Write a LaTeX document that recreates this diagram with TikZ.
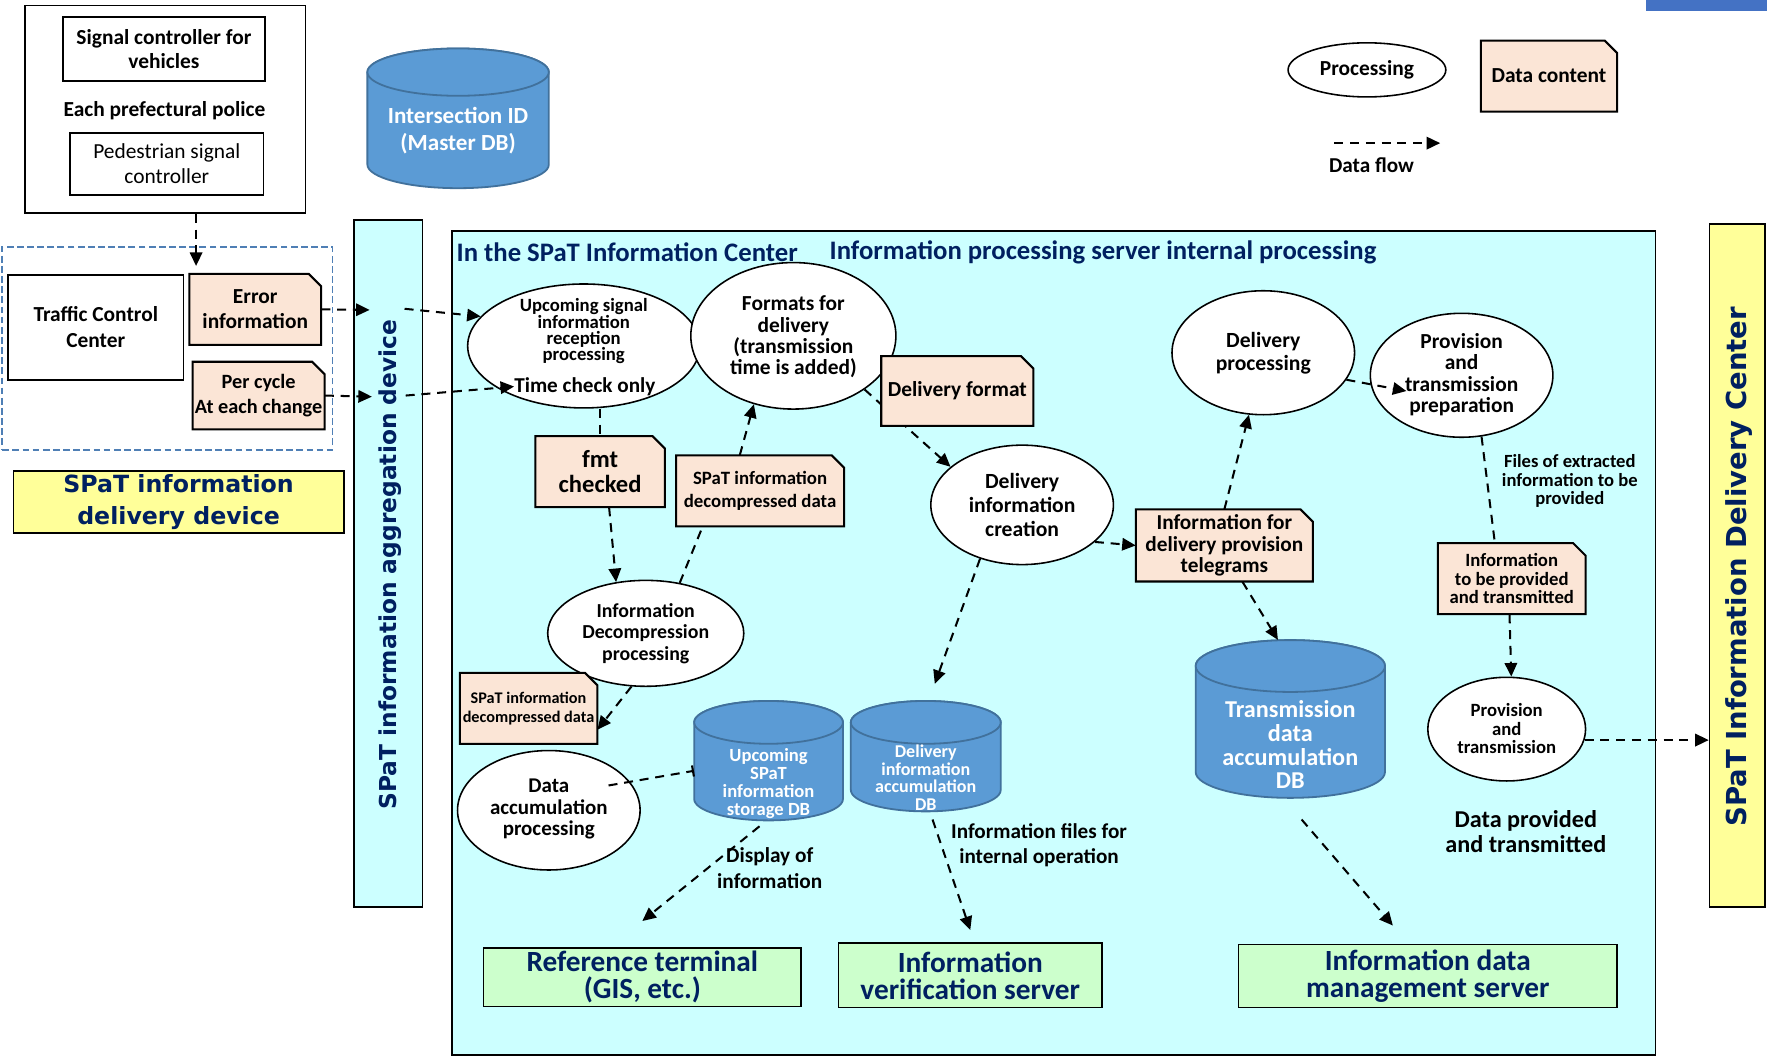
\documentclass[tikz,border=0pt]{standalone}
\usepackage{fontspec}
\setmainfont{Carlito}
\newfontfamily\dvs{DejaVu Sans}
\usetikzlibrary{arrows.meta,shapes.geometric}

\definecolor{peach}{HTML}{FBE5D6}
\definecolor{lcyan}{HTML}{CCFFFF}
\definecolor{lgreen}{HTML}{CCFFCC}
\definecolor{lyellow}{HTML}{FFFF99}
\definecolor{dbblue}{HTML}{5B9BD5}
\definecolor{dbedge}{HTML}{41719C}
\definecolor{deepnavy}{HTML}{002060}
\definecolor{steel}{HTML}{4F7FB5}
\definecolor{tabblue}{HTML}{4472C4}

\newcommand\fsz[2]{\fontsize{#1}{#2}\selectfont}

\pgfdeclarelayer{back}
\pgfdeclarelayer{lines}
\pgfsetlayers{back,lines,main}

\tikzset{
  flow/.style={line width=1.8pt, dash pattern=on 8pt off 6pt, -{Triangle[length=12pt,width=11pt]}},
  flowplain/.style={line width=1.8pt, dash pattern=on 8pt off 6pt},
  flowbar/.style={line width=1.8pt, dash pattern=on 8pt off 6pt, -{Bar[width=10pt]}},
  proc/.style={ellipse, draw, line width=1.4pt, fill=white, inner sep=0pt},
  docline/.style={draw, line width=1.8pt, fill=peach, line join=miter},
  doctext/.style={inner sep=0pt, align=center},
  txt/.style={inner sep=0pt, align=center},
  wbox/.style={draw, line width=1.4pt, fill=white, inner sep=0pt, align=center},
  gbox/.style={draw, line width=1.4pt, fill=lgreen, inner sep=0pt, align=center, text=deepnavy, font=\bfseries\fsz{26}{24}},
  ybox/.style={draw, line width=1.4pt, fill=lyellow, inner sep=0pt, align=center},
  dbshape/.style={fill=dbblue, draw=dbedge, line width=1.6pt},
  dbt/.style={text=white, align=center, inner sep=0pt},
}

% document symbol: rectangle with clipped top-right corner
% #1 name, #2 cx, #3 cy, #4 width, #5 height, #6 font, #7 text
\newcommand\docbox[7]{%
  \draw[docline] ({#2-#4/2},{#3-#5/2}) -- ({#2+#4/2-11},{#3-#5/2})
    -- ({#2+#4/2},{#3-#5/2+11}) -- ({#2+#4/2},{#3+#5/2})
    -- ({#2-#4/2},{#3+#5/2}) -- cycle;
  \node[doctext, font=#6, minimum width=#4pt, minimum height=#5pt] (#1) at (#2,#3) {#7};
}

% database cylinder
% #1 name, #2 cx, #3 rx, #4 top, #5 bottom, #6 ry, #7 text y, #8 font, #9 text
\newcommand\dbcyl[9]{%
  \filldraw[dbshape] ({#2-#3},{#4+#6}) -- ({#2-#3},{#5-#6})
    arc[start angle=180,end angle=360,x radius=#3pt,y radius=#6pt]
    -- ({#2+#3},{#4+#6})
    arc[start angle=0,end angle=180,x radius=#3pt,y radius=#6pt] -- cycle;
  \draw[dbshape] (#2,{#4+#6}) ellipse[x radius=#3pt,y radius=#6pt];
  \node[inner sep=0pt, minimum width={2*#3pt}, minimum height={(#5-#4)*1pt}] (#1) at (#2,{(#4+#5)/2}) {};
  \node[dbt, font=\bfseries#8] (#1t) at (#2,#7) {#9};
}

\begin{document}
\begin{tikzpicture}[x=1pt,y=-1pt]
\useasboundingbox (0,0) rectangle (1568,938);

\begin{pgfonlayer}{back}
  \fill[white] (0,0) rectangle (1568,938);
  \node[draw, line width=1.4pt, fill=lcyan, minimum width=1068pt, minimum height=731pt, inner sep=0pt] (ctr) at (935,570.5) {};
  \node[draw, line width=1.4pt, fill=lcyan, minimum width=61pt, minimum height=610pt, inner sep=0pt] (agg) at (344.5,500) {};
  \node[draw=steel, dash pattern=on 6pt off 3pt, line width=1.6pt, minimum width=293pt, minimum height=180pt, inner sep=0pt] (devbox) at (148.5,309) {};
\end{pgfonlayer}

% top-right tab
\node[fill=tabblue, minimum width=107pt, minimum height=10pt, inner sep=0pt] (tab) at (1514.5,5) {};

% prefectural police
\node[wbox, minimum width=249pt, minimum height=184pt] (police) at (146.5,97) {};
\node[wbox, font=\bfseries\fsz{19}{22}, minimum width=179pt, minimum height=57pt] (sigveh) at (145.5,43.5) {Signal controller for\\vehicles};
\node[txt, font=\bfseries\fsz{19}{20}] (polname) at (146,98) {Each prefectural police};
\node[wbox, font=\fsz{19}{22}, minimum width=172pt, minimum height=55pt] (ped) at (148,145.5) {Pedestrian signal\\controller};

% traffic control center
\node[wbox, font=\bfseries\fsz{19}{23}, minimum width=156pt, minimum height=93pt] (tcc) at (85,290.5) {Traffic Control\\Center};
\docbox{err}{226.5}{274.5}{117}{63}{\bfseries\fsz{19}{22}}{Error\\information}
\docbox{percyc}{229.5}{351}{117}{60}{\bfseries\fsz{18}{22}}{Per cycle\\At each change}
\node[ybox, text=deepnavy, font=\dvs\bfseries\fsz{21}{28}, minimum width=293pt, minimum height=55pt] (devlbl) at (158.5,445.5) {SPaT information\\delivery device};

% aggregation device label
\node[txt, rotate=90, text=deepnavy, font=\dvs\bfseries\fsz{20.7}{24}] (aggt) at (346,501) {SPaT information aggregation device};

% Intersection master DB
\dbcyl{dbint}{406.5}{80.5}{43}{167}{21}{116}{\fsz{20.5}{24}}{Intersection ID\\(Master DB)}

% legend
\node[proc, minimum width=140pt, minimum height=48pt] (lgp) at (1213,62) {};
\node[txt, font=\bfseries\fsz{19}{18}] (lgpt) at (1213,62) {Processing};
\docbox{lgd}{1374.5}{67.5}{121}{63}{\bfseries\fsz{19}{18}}{Data content}
\coordinate (lgA) at (1184,127);
\coordinate (lgB) at (1278,127);
\node[txt, font=\bfseries\fsz{18.8}{18}] (lgft) at (1217,147) {Data flow};

% center titles
\node[txt, anchor=west, text=deepnavy, font=\bfseries\fsz{23.7}{22}] (title1) at (405,224) {In the SPaT Information Center};
\node[txt, anchor=west, text=deepnavy, font=\bfseries\fsz{23.7}{22}] (title2) at (736,224) {Information processing server internal processing};

% processing steps
\node[proc, minimum width=206pt, minimum height=110pt] (upc) at (518,307) {};
\node[txt, font=\bfseries\fsz{16.6}{14.5}] (upct) at (518,294) {Upcoming signal\\information\\reception\\processing};
\node[txt, font=\bfseries\fsz{18.8}{20}] (tco) at (519,343) {Time check only};

\node[proc, minimum width=182pt, minimum height=130pt] (fmt) at (704,298) {};
\node[txt, font=\bfseries\fsz{19}{19}] (fmtt) at (704,299) {Formats for\\delivery\\(transmission\\time is added)};

\docbox{dfmt}{849.5}{347}{135}{62}{\bfseries\fsz{19}{20}}{Delivery format}
\docbox{fck}{532.5}{418.5}{115}{63}{\bfseries\fsz{21.8}{22}}{fmt\\checked}
\docbox{sdd1}{674.5}{435.5}{149}{63}{\bfseries\fsz{16.7}{20}}{SPaT information\\decompressed data}

\node[proc, minimum width=162pt, minimum height=106pt] (dic) at (907,448) {};
\node[txt, font=\bfseries\fsz{19.2}{21}] (dict) at (907,448) {Delivery\\information\\creation};

\node[proc, minimum width=174pt, minimum height=94pt] (dec) at (573,562) {};
\node[txt, font=\bfseries\fsz{17.6}{19}] (dect) at (573,562) {Information\\Decompression\\processing};

\docbox{sdd2}{469}{628.5}{122}{63}{\bfseries\fsz{14.4}{17}}{SPaT information\\decompressed data}

\node[proc, minimum width=162pt, minimum height=106pt] (dacc) at (487,719) {};
\node[txt, font=\bfseries\fsz{18.6}{19}] (dacct) at (487,718) {Data\\accumulation\\processing};

\dbcyl{dbup}{682}{66}{622}{728}{19}{695}{\fsz{16.5}{16}}{Upcoming\\SPaT\\information\\storage DB}
\dbcyl{dbdel}{821.5}{66.5}{622}{720}{19}{690}{\fsz{16}{15.5}}{Delivery\\information\\accumulation\\DB}
\dbcyl{dbtx}{1145}{84}{568}{708}{23}{661}{\fsz{21.5}{21}}{Transmission\\data\\accumulation\\DB}

\node[proc, minimum width=162pt, minimum height=110pt] (dp) at (1121,313) {};
\node[txt, font=\bfseries\fsz{19.2}{21}] (dpt) at (1121,313.5) {Delivery\\processing};

\node[proc, minimum width=162pt, minimum height=110pt] (pp) at (1297,333) {};
\node[txt, font=\bfseries\fsz{19}{19}] (ppt) at (1297,332.5) {Provision\\and\\transmission\\preparation};

\docbox{tel}{1086.5}{484}{157}{64}{\bfseries\fsz{18.9}{19}}{Information for\\delivery provision\\telegrams}
\docbox{itp}{1341.5}{513.5}{131}{63}{\bfseries\fsz{16.6}{16.5}}{Information\\to be provided\\and transmitted}

\node[proc, minimum width=140pt, minimum height=92pt] (pt) at (1337,647) {};
\node[txt, font=\bfseries\fsz{16.6}{16.5}] (ptt) at (1337,646.5) {Provision\\and\\transmission};

% free labels
\node[txt, font=\bfseries\fsz{16.5}{16.5}] (files) at (1393,427) {Files of extracted\\information to be\\provided};
\node[txt, font=\bfseries\fsz{21.5}{22}] (dprov) at (1354,738) {Data provided\\and transmitted};
\node[txt, font=\bfseries\fsz{18.9}{23}] (disp) at (683,770) {Display of\\information};
\node[txt, font=\bfseries\fsz{18.8}{22}] (ifiles) at (922,750) {Information files for\\internal operation};

% external servers
\node[gbox, minimum width=282pt, minimum height=52pt] (ref) at (570,867) {Reference terminal\\(GIS, etc.)};
\node[gbox, minimum width=234pt, minimum height=57pt] (ver) at (861,865.5) {Information\\verification server};
\node[gbox, minimum width=336pt, minimum height=56pt] (mgmt) at (1267,866) {Information data\\management server};

% delivery center
\node[ybox, minimum width=49pt, minimum height=606pt] (dc) at (1541.5,502) {};
\node[txt, rotate=90, text=deepnavy, font=\dvs\bfseries\fsz{24.4}{24}] (dct) at (1543,503) {SPaT Information Delivery Center};

% data flows
\coordinate (devin) at (174,236);
\draw[flow] (police.south -| devin) -- (devin);
\coordinate (aggin1) at (328,275);
\coordinate (aggout1) at (359,274);
\coordinate (aggin2) at (330,352);
\coordinate (aggout2) at (360,351);
\draw[flow] (err.east) -- (aggin1);
\draw[flow] (aggout1) -- (upc.164);
\draw[flow] (percyc.east) -- (aggin2);
\draw[flow] (aggout2) -- (tco.west);

\draw[flowplain] (upc.south -| fck.north) -- (fck.north);
\draw[flow] ([xshift=8pt]fck.south) -- (dec.120);
\draw[flowplain] (dec.56) -- ([xshift=-51pt]sdd1.south);
\draw[flow] ([xshift=-18pt]sdd1.north) -- (fmt.240);
\begin{pgfonlayer}{lines}
  \draw[flow] (fmt.-37) -- (dic.152);
\end{pgfonlayer}
\draw[flow] (dic.-27) -- (tel.west);
\draw[flow] (tel.north) -- (dp.257);
\draw[flow] (dp.-18) -- ([shift={(-49pt,-14pt)}]pp.center);
\draw[flowplain] (pp.-72) -- ([xshift=-15pt]itp.north);
\draw[flow] ([xshift=-2pt]itp.south) -- (pt.85);
\draw[flow] (pt.-8) -- (pt.-8 -| dc.west);
\draw[flow] ([xshift=16pt]tel.south) -- ([xshift=-11pt]dbtx.north);
\draw[flow] (dic.232) -- ([xshift=8pt,yshift=15pt]dbdel.north);
\draw[flow] (dec.255) -- ([yshift=-19pt]sdd2.east);
\draw[flowbar] ([shift={(53pt,22pt)}]dacc.center) -- ([yshift=-9pt]dbup.west);
\draw[flow] ([xshift=-8pt,yshift=-5pt]dbup.south) -- ([yshift=23pt]ref.north);
\draw[flow] ([xshift=6pt,yshift=-7pt]dbdel.south) -- ([yshift=11pt]ver.north);
\draw[flow] ([xshift=10pt,yshift=-19pt]dbtx.south) -- ([xshift=-31pt,yshift=16pt]mgmt.north);
\draw[flow] (lgA) -- (lgB);
\end{tikzpicture}
\end{document}
